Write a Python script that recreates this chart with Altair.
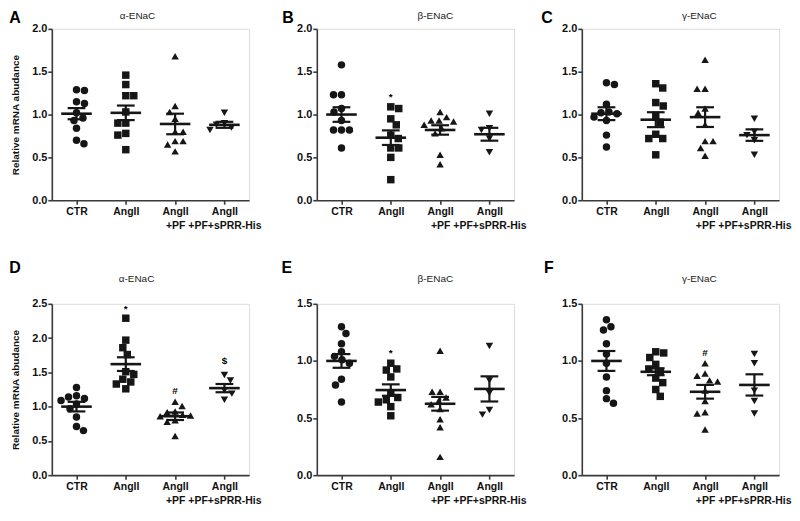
import altair as alt
import pandas as pd

# ---------------- data ----------------
GROUPS = ["CTR", "AngII", "AngII+PF", "AngII+PF+sPRR-His"]
TICK_LABELS = ["CTR", "AngII", "AngII|+PF", "AngII|+PF+sPRR-His"]
SHAPES = ["circle", "square", "triangle-up", "triangle-down"]
TITLES = ["α-ENaC", "β-ENaC", "γ-ENaC", "α-ENaC", "β-ENaC", "γ-ENaC"]
LETTERS = ["A", "B", "C", "D", "E", "F"]
Y_TITLE = "Relative mRNA abudance"
Y_MAX = [2.0, 2.0, 2.0, 2.5, 1.5, 1.5]

# Panel A  (alpha-ENaC, top)
A_ctr = [1.29, 1.28, 1.15, 1.13, 1.02, 0.96, 0.93, 0.84, 0.70, 0.66]
A_ang = [1.46, 1.35, 1.22, 1.22, 1.03, 0.90, 0.90, 0.78, 0.76, 0.59]
A_pf = [1.68, 1.10, 1.03, 0.95, 0.80, 0.80, 0.69, 0.69, 0.65, 0.57]
A_sprr = [1.02, 0.90, 0.88, 0.85, 0.82]
A_mean = [1.01, 1.02, 0.89, 0.88]
A_sem = [0.065, 0.085, 0.12, 0.035]

# Panel B  (beta-ENaC, top)
B_ctr = [1.58, 1.23, 1.23, 1.07, 1.03, 0.93, 0.82, 0.82, 0.82, 0.61]
B_ang = [1.09, 1.07, 0.95, 0.88, 0.76, 0.72, 0.61, 0.61, 0.50, 0.24]
B_pf = [1.03, 0.97, 0.93, 0.93, 0.92, 0.88, 0.84, 0.78, 0.53, 0.42]
B_sprr = [1.01, 0.84, 0.82, 0.72, 0.56]
B_mean = [1.00, 0.73, 0.82, 0.77]
B_sem = [0.085, 0.085, 0.055, 0.075]

# Panel C  (gamma-ENaC, top)
C_ctr = [1.37, 1.35, 1.12, 1.03, 1.02, 1.01, 0.97, 0.93, 0.76, 0.62]
C_ang = [1.36, 1.31, 1.14, 1.10, 0.99, 0.91, 0.77, 0.72, 0.72, 0.53]
C_pf = [1.64, 1.30, 1.30, 1.07, 1.02, 0.88, 0.69, 0.69, 0.61, 0.52]
C_sprr = [0.95, 0.80, 0.76, 0.70, 0.53]
C_mean = [1.01, 0.94, 0.97, 0.76]
C_sem = [0.075, 0.087, 0.115, 0.067]

# Panel D  (alpha-ENaC, bottom)
D_ctr = [1.28, 1.16, 1.14, 1.12, 1.09, 1.04, 0.97, 0.85, 0.71, 0.65]
D_ang = [2.29, 1.97, 1.86, 1.76, 1.51, 1.47, 1.40, 1.36, 1.33, 1.26]
D_pf = [1.07, 1.01, 0.93, 0.92, 0.88, 0.87, 0.86, 0.80, 0.78, 0.57]
D_sprr = [1.46, 1.38, 1.24, 1.19, 1.10]
D_mean = [1.00, 1.62, 0.86, 1.27]
D_sem = [0.07, 0.10, 0.055, 0.06]

# Panel E  (beta-ENaC, bottom)
E_ctr = [1.30, 1.24, 1.15, 1.08, 1.04, 1.01, 0.98, 0.84, 0.79, 0.64]
E_ang = [0.98, 0.93, 0.92, 0.86, 0.72, 0.68, 0.66, 0.64, 0.60, 0.52]
E_pf = [1.09, 0.73, 0.73, 0.68, 0.65, 0.62, 0.58, 0.49, 0.42, 0.16]
E_sprr = [1.13, 0.83, 0.72, 0.57, 0.53]
E_mean = [1.00, 0.745, 0.625, 0.755]
E_sem = [0.06, 0.05, 0.06, 0.11]

# Panel F  (gamma-ENaC, bottom)
F_ctr = [1.36, 1.30, 1.27, 1.15, 1.06, 0.98, 0.86, 0.74, 0.67, 0.63]
F_ang = [1.08, 1.07, 1.03, 0.97, 0.93, 0.91, 0.85, 0.81, 0.75, 0.69]
F_pf = [0.98, 0.89, 0.87, 0.83, 0.82, 0.74, 0.65, 0.55, 0.54, 0.40]
F_sprr = [1.06, 0.98, 0.74, 0.65, 0.54]
F_mean = [1.00, 0.905, 0.73, 0.79]
F_sem = [0.087, 0.03, 0.06, 0.093]

# significance marks (group index, symbol, height)
NOTE_A_GROUP, NOTE_A_TEXT, NOTE_A_Y = [], [], []
NOTE_B_GROUP, NOTE_B_TEXT, NOTE_B_Y = [1], ["*"], [1.20]
NOTE_C_GROUP, NOTE_C_TEXT, NOTE_C_Y = [], [], []
NOTE_D_GROUP, NOTE_D_TEXT, NOTE_D_Y = [1, 2, 3], ["*", "#", "$"], [2.43, 1.23, 1.66]
NOTE_E_GROUP, NOTE_E_TEXT, NOTE_E_Y = [1], ["*"], [1.07]
NOTE_F_GROUP, NOTE_F_TEXT, NOTE_F_Y = [2], ["#"], [1.07]

# ---------------- layout / style ----------------
PLOT_W = 198
PLOT_H = 172
FONT = "Liberation Sans"
INK = "#161616"
AXIS_INK = "#3a3a3a"
POINT_D = 8.0          # marker diameter (px) used for the swarm layout
LETTER_DX = [-37, -29, -35, -37, -30, -33]
TITLE_DX = [86, 119, 118, 85, 119, 118]
LETTER_DY = [-6, -31]
TITLE_DY = [-10, -22]


def swarm(values, ymax):
    """Prism-like column scatter: spread colliding points sideways."""
    ppu = PLOT_H / ymax
    step = PLOT_W / 4.0
    placed = []
    offs = [0.0] * len(values)
    order = sorted(range(len(values)), key=lambda i: -values[i])
    for n, i in enumerate(order):
        yy = values[i] * ppu
        choice = 0.0
        for k in range(200):
            if k == 0:
                cands = [0.0]
            else:
                c = k * 0.5
                cands = [c, -c] if n % 2 else [-c, c]
            hit = None
            for c in cands:
                if all((c - px) ** 2 + (yy - py) ** 2 >= POINT_D ** 2 for px, py in placed):
                    hit = c
                    break
            if hit is not None:
                choice = hit
                break
        placed.append((choice, yy))
        offs[i] = choice / step
    return offs


def make_panel(k, series, means, sems, note_g, note_t, note_y):
    ymax = Y_MAX[k]
    row = k // 3
    ytitle = Y_TITLE if k % 3 == 0 else None
    rows = []
    for gi, vals in enumerate(series):
        for v, o in zip(vals, swarm(vals, ymax)):
            rows.append({"group": GROUPS[gi], "x": gi + o, "value": v})
    pts = pd.DataFrame(rows)

    stats = pd.DataFrame({"idx": list(range(4)), "mean": means, "sem": sems})
    stats["lo"] = stats["mean"] - stats["sem"]
    stats["hi"] = stats["mean"] + stats["sem"]
    stats["ml"] = stats["idx"] - 0.31
    stats["mr"] = stats["idx"] + 0.31
    stats["cl"] = stats["idx"] - 0.18
    stats["cr"] = stats["idx"] + 0.18

    xs = alt.Scale(domain=[-0.5, 3.5], nice=False, zero=False)
    ys = alt.Scale(domain=[0, ymax], nice=False, zero=True)
    lab_arr = "[" + ",".join("'" + t + "'" for t in TICK_LABELS) + "]"
    xaxis = alt.Axis(
        values=[0, 1, 2, 3], title=None, grid=False,
        labelExpr="split(" + lab_arr + "[datum.value], '|')",
        labelFont=FONT, labelFontWeight="bold", labelFontSize=10.5, labelColor="#111",
        labelLineHeight=14, labelPadding=2, labelOverlap=False, labelFlush=False,
        domainColor=AXIS_INK, domainWidth=1.6, tickColor=AXIS_INK, tickWidth=1.6, tickSize=4,
    )
    ticks = [i * 0.5 for i in range(int(round(ymax / 0.5)) + 1)]
    yaxis = alt.Axis(
        values=ticks, format=".1f", grid=False, title=ytitle,
        titleFont=FONT, titleFontWeight="bold", titleFontSize=10, titleColor="#111",
        titlePadding=11,
        labelFont=FONT, labelFontWeight="bold", labelFontSize=11, labelColor="#111",
        labelPadding=1, labelFlush=False, labelOverlap=False,
        domainColor=AXIS_INK, domainWidth=1.6, tickColor=AXIS_INK, tickWidth=1.6, tickSize=4,
    )

    def X(field):
        return alt.X(field, type="quantitative", scale=xs, axis=xaxis)

    def Y(field):
        return alt.Y(field, type="quantitative", scale=ys, axis=yaxis)

    points = alt.Chart(pts).mark_point(filled=True, size=56, opacity=1, color=INK).encode(
        x=X("x"), y=Y("value"),
        shape=alt.Shape("group:N", scale=alt.Scale(domain=GROUPS, range=SHAPES), legend=None),
    )
    mean_line = alt.Chart(stats).mark_rule(color=INK, strokeWidth=2.6).encode(
        x=X("ml"), x2="mr:Q", y=Y("mean"),
    )
    sem_v = alt.Chart(stats).mark_rule(color=INK, strokeWidth=2.2).encode(
        x=X("idx"), y=Y("lo"), y2="hi:Q",
    )
    cap_hi = alt.Chart(stats).mark_rule(color=INK, strokeWidth=2.2).encode(
        x=X("cl"), x2="cr:Q", y=Y("hi"),
    )
    cap_lo = alt.Chart(stats).mark_rule(color=INK, strokeWidth=2.2).encode(
        x=X("cl"), x2="cr:Q", y=Y("lo"),
    )
    layers = [points, mean_line, sem_v, cap_hi, cap_lo]

    if note_g:
        notes = pd.DataFrame({"idx": note_g, "t": note_t, "y": note_y})
        layers.append(
            alt.Chart(notes).mark_text(font=FONT, fontSize=10, fontWeight="bold", color="#000",
                                       baseline="middle", align="center").encode(
                x=X("idx"), y=Y("y"), text="t:N",
            )
        )

    head = pd.DataFrame({"letter": [LETTERS[k]], "title": [TITLES[k]]})
    layers.append(
        alt.Chart(head).mark_text(font=FONT, fontSize=16, fontWeight="bold", color="#000",
                                  align="center", baseline="alphabetic").encode(
            x=alt.value(LETTER_DX[k]), y=alt.value(LETTER_DY[row]), text="letter:N")
    )
    layers.append(
        alt.Chart(head).mark_text(font=FONT, fontSize=10, color="#222",
                                  align="center", baseline="alphabetic").encode(
            x=alt.value(TITLE_DX[k]), y=alt.value(TITLE_DY[row]), text="title:N")
    )
    return alt.layer(*layers).properties(width=PLOT_W, height=PLOT_H)


panels = [
    make_panel(0, [A_ctr, A_ang, A_pf, A_sprr], A_mean, A_sem, NOTE_A_GROUP, NOTE_A_TEXT, NOTE_A_Y),
    make_panel(1, [B_ctr, B_ang, B_pf, B_sprr], B_mean, B_sem, NOTE_B_GROUP, NOTE_B_TEXT, NOTE_B_Y),
    make_panel(2, [C_ctr, C_ang, C_pf, C_sprr], C_mean, C_sem, NOTE_C_GROUP, NOTE_C_TEXT, NOTE_C_Y),
    make_panel(3, [D_ctr, D_ang, D_pf, D_sprr], D_mean, D_sem, NOTE_D_GROUP, NOTE_D_TEXT, NOTE_D_Y),
    make_panel(4, [E_ctr, E_ang, E_pf, E_sprr], E_mean, E_sem, NOTE_E_GROUP, NOTE_E_TEXT, NOTE_E_Y),
    make_panel(5, [F_ctr, F_ang, F_pf, F_sprr], F_mean, F_sem, NOTE_F_GROUP, NOTE_F_TEXT, NOTE_F_Y),
]

chart = alt.concat(
    *panels, columns=3, spacing={"row": 104, "column": 68}, bounds="flush"
).properties(padding=0).configure_view(strokeWidth=0).configure(background="white")

chart.save("out.html", embed_options={"renderer": "svg", "actions": False})
